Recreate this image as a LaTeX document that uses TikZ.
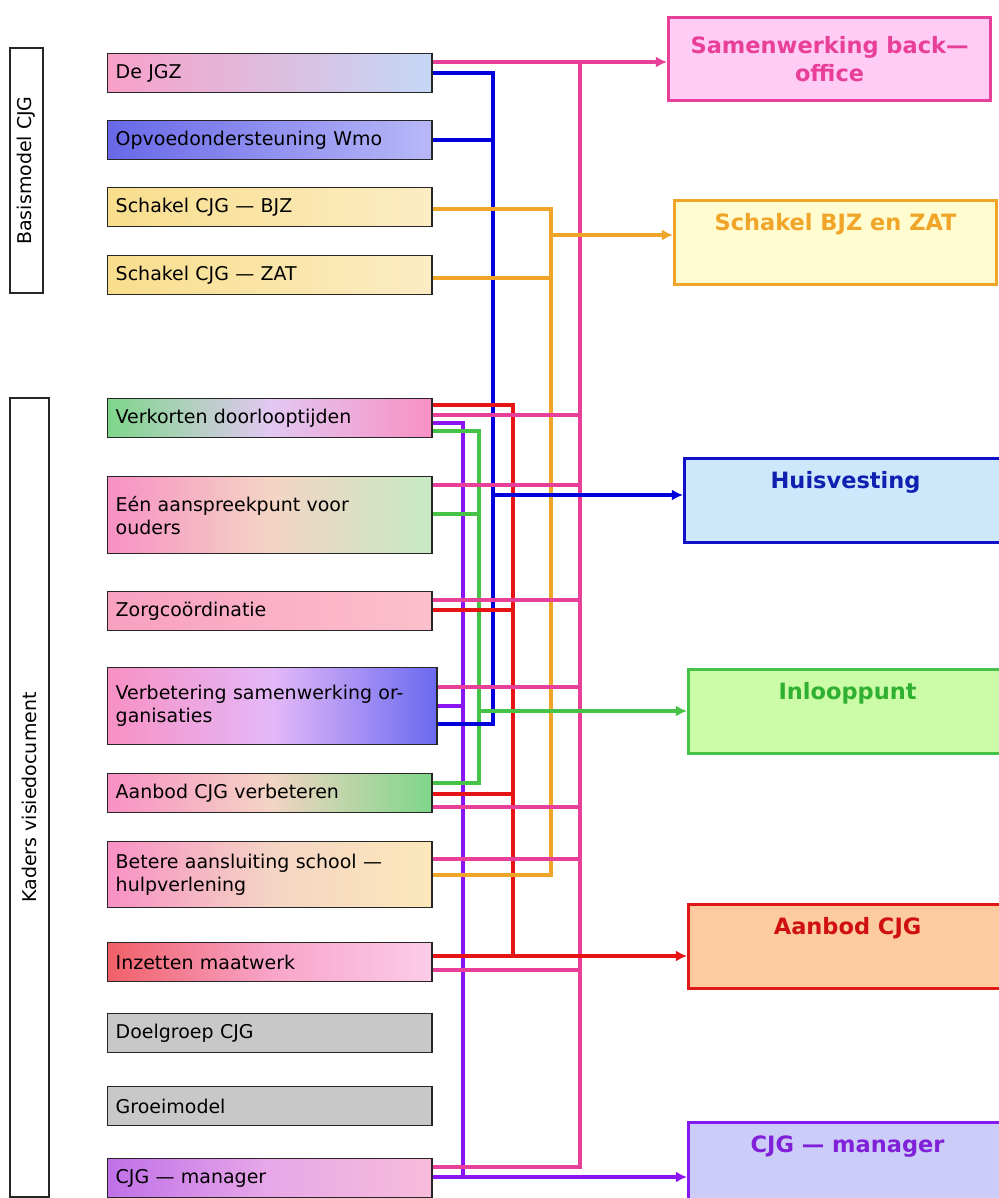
\documentclass[tikz,border=0pt]{standalone}
\usepackage{fontspec}
\setmainfont{DejaVu Sans}
\usetikzlibrary{arrows.meta}
\usetikzlibrary{calc}

\definecolor{lnPink}{RGB}{232,64,152}
\definecolor{lnBlue}{RGB}{0,0,220}
\definecolor{lnOrange}{RGB}{240,164,40}
\definecolor{lnRed}{RGB}{230,20,20}
\definecolor{lnPurple}{RGB}{140,20,240}
\definecolor{lnGreen}{RGB}{70,195,70}

\definecolor{jgzL}{RGB}{248,160,200}
\definecolor{jgzR}{RGB}{196,216,246}
\definecolor{opvL}{RGB}{104,104,232}
\definecolor{opvR}{RGB}{184,184,248}
\definecolor{bjzL}{RGB}{248,222,140}
\definecolor{bjzR}{RGB}{252,236,196}
\definecolor{gPink}{RGB}{248,144,196}
\definecolor{gGreen}{RGB}{126,214,138}
\definecolor{gLav}{RGB}{226,200,242}
\definecolor{gBeige}{RGB}{244,212,196}
\definecolor{gLtGreen}{RGB}{198,234,196}
\definecolor{zorgL}{RGB}{248,160,192}
\definecolor{zorgR}{RGB}{252,192,204}
\definecolor{verbM}{RGB}{228,184,248}
\definecolor{verbR}{RGB}{106,106,240}
\definecolor{betR}{RGB}{252,232,186}
\definecolor{inzL}{RGB}{240,96,104}
\definecolor{inzM}{RGB}{248,164,200}
\definecolor{inzR}{RGB}{252,204,232}
\definecolor{gGray}{RGB}{200,200,200}
\definecolor{mgrL}{RGB}{192,112,232}
\definecolor{mgrM}{RGB}{232,168,232}
\definecolor{mgrR}{RGB}{248,188,218}

\definecolor{samF}{RGB}{255,204,246}
\definecolor{zatF}{RGB}{255,252,208}
\definecolor{hvF}{RGB}{204,232,250}
\definecolor{hvB}{RGB}{16,16,200}
\definecolor{hvT}{RGB}{16,32,176}
\definecolor{inlF}{RGB}{204,252,168}
\definecolor{inlT}{RGB}{48,176,48}
\definecolor{aanF}{RGB}{252,204,160}
\definecolor{aanB}{RGB}{224,24,24}
\definecolor{aanT}{RGB}{208,16,16}
\definecolor{mgF}{RGB}{204,204,248}
\definecolor{mgB}{RGB}{136,24,240}
\definecolor{mgT}{RGB}{128,32,216}

\newcommand{\drawTap}[4]{
	\draw[#1] let
		\p1 = (#2.east), \p2 = (#4), \p3 = (0,#3)
		in
		(\x1,\y3) -- (\x2,\y3);
}

\begin{document}
\begin{tikzpicture}[x=0.025cm, y=-0.025cm,
		leftbox/.style={draw=black!85, line width=1pt, anchor=north west, align=left,
			minimum width=8.1cm, text width=7.7cm, inner xsep=5.7pt, minimum height=0.975cm,
			font=\fontsize{13.5}{16.4}\selectfont},
		sidebox/.style={draw=black!85, line width=1pt, rotate=90, font=\fontsize{13.5}{16}\selectfont},
		goalbox/.style={line width=2.2pt, anchor=north west, align=center, minimum width=8.05cm,
			minimum height=2.075cm, font=\fontsize{16}{20}\selectfont\bfseries},
		toptext/.style={text height=18.5pt, text depth=35pt, inner ysep=3pt},
		link/.style={line width=2.5pt},
		trunk/.style={line width=2.5pt, line cap=rect},
		linkarrow/.style={line width=2.5pt, -{Latex[length=8pt,width=8pt]}}]

		\useasboundingbox (0,0) rectangle (999,1198);
		\clip (0,0) rectangle (999,1198);

		% group labels
		\node[sidebox, minimum width=6.125cm, minimum height=0.825cm] (basis) at (26.5,170.5) {Basismodel CJG};
		\node[sidebox, minimum width=19.975cm, minimum height=0.975cm] (kaders) at (29.5,797.5) {Kaders visiedocument};

		% left boxes
		\node[leftbox, left color=jgzL, right color=jgzR] (jgz) at (107,53) {De JGZ};
		\node[leftbox, left color=opvL, right color=opvR] (opv) at (107,120) {Opvoedondersteuning Wmo};
		\node[leftbox, left color=bjzL, right color=bjzR] (bjz) at (107,187) {Schakel CJG — BJZ};
		\node[leftbox, left color=bjzL, right color=bjzR] (zat) at (107,255) {Schakel CJG — ZAT};
		\node[leftbox, left color=gGreen, right color=gPink, middle color=gLav] (verk) at (107,398) {Verkorten doorlooptijden};
		\node[leftbox, minimum height=1.925cm, left color=gPink, right color=gLtGreen, middle color=gBeige] (een) at (107,476) {Eén aanspreekpunt voor\\ouders};
		\node[leftbox, left color=zorgL, right color=zorgR] (zorg) at (107,591) {Zorgcoördinatie};
		\node[leftbox, minimum width=8.225cm, text width=7.83cm, minimum height=1.925cm, left color=gPink, right color=verbR, middle color=verbM] (verb) at (107,667) {Verbetering samenwerking or-\\ganisaties};
		\node[leftbox, left color=gPink, right color=gGreen, middle color=gBeige] (aanv) at (107,773) {Aanbod CJG verbeteren};
		\node[leftbox, minimum height=1.65cm, left color=gPink, right color=betR, middle color=gBeige] (bet) at (107,841) {Betere aansluiting school —\\hulpverlening};
		\node[leftbox, left color=inzL, right color=inzR, middle color=inzM] (inz) at (107,942) {Inzetten maatwerk};
		\node[leftbox, fill=gGray] (doel) at (107,1013) {Doelgroep CJG};
		\node[leftbox, fill=gGray] (groei) at (107,1086) {Groeimodel};
		\node[leftbox, left color=mgrL, right color=mgrR, middle color=mgrM] (mgr) at (107,1158) {CJG — manager};

		% right boxes
		\node[goalbox, draw=lnPink, fill=samF, text=lnPink] (sam) at (667,16) {Samenwerking back—\\office};
		\node[goalbox, toptext, draw=lnOrange, fill=zatF, text=lnOrange] (bjzzat) at (673,199) {Schakel BJZ en ZAT};
		\node[goalbox, toptext, draw=hvB, fill=hvF, text=hvT] (hv) at (683,457) {Huisvesting};
		\node[goalbox, toptext, minimum width=7.95cm, draw=lnGreen, fill=inlF, text=inlT] (inl) at (687,668) {Inlooppunt};
		\node[goalbox, toptext, minimum width=7.95cm, draw=aanB, fill=aanF, text=aanT] (aanb) at (687,903) {Aanbod CJG};
		\node[goalbox, toptext, minimum width=7.95cm, draw=mgB, fill=mgF, text=mgT] (cjgm) at (687,1121) {CJG — manager};

		% trunks
		\coordinate (pkT) at (580,62);
		\coordinate (pkB) at (580,1167);
		\coordinate (blT) at (493,73);
		\coordinate (blB) at (493,724);
		\coordinate (orT) at (551,209);
		\coordinate (orB) at (551,875);
		\coordinate (rdT) at (513,405);
		\coordinate (rdB) at (513,956);
		\coordinate (puT) at (463,423);
		\coordinate (puB) at (463,1177);
		\coordinate (grT) at (479,431);
		\coordinate (grB) at (479,783);
		\coordinate (blA) at (493,495);
		\coordinate (orA) at (551,235);
		\coordinate (grA) at (479,711);

		\draw[trunk, lnPurple] (puT) -- (puB);
		\draw[trunk, lnGreen] (grT) -- (grB);
		\draw[trunk, lnBlue] (blT) -- (blB);
		\draw[trunk, lnRed] (rdT) -- (rdB);
		\draw[trunk, lnOrange] (orT) -- (orB);
		\draw[trunk, lnPink] (pkT) -- (pkB);

		\drawTap{link, lnPink}{jgz}{62}{pkT}
		\drawTap{link, lnPink}{verk}{415}{pkT}
		\drawTap{link, lnPink}{een}{485}{pkT}
		\drawTap{link, lnPink}{zorg}{600}{pkT}
		\drawTap{link, lnPink}{verb}{687}{pkT}
		\drawTap{link, lnPink}{aanv}{807}{pkT}
		\drawTap{link, lnPink}{bet}{859}{pkT}
		\drawTap{link, lnPink}{inz}{970}{pkT}
		\drawTap{link, lnPink}{mgr}{1167}{pkT}

		\drawTap{link, lnBlue}{jgz}{73}{blT}
		\drawTap{link, lnBlue}{opv}{140}{blT}
		\drawTap{link, lnBlue}{verb}{724}{blT}

		\drawTap{link, lnOrange}{bjz}{209}{orT}
		\drawTap{link, lnOrange}{zat}{278}{orT}
		\drawTap{link, lnOrange}{bet}{875}{orT}

		\drawTap{link, lnRed}{verk}{405}{rdT}
		\drawTap{link, lnRed}{zorg}{610}{rdT}
		\drawTap{link, lnRed}{aanv}{794}{rdT}
		\drawTap{link, lnRed}{inz}{956}{rdT}

		\drawTap{link, lnPurple}{verk}{423}{puT}
		\drawTap{link, lnPurple}{verb}{706}{puT}
		\drawTap{link, lnPurple}{mgr}{1177}{puT}

		\drawTap{link, lnGreen}{verk}{431}{grT}
		\drawTap{link, lnGreen}{een}{514}{grT}
		\drawTap{link, lnGreen}{aanv}{783}{grT}

		% arrows to the right boxes
		\draw[linkarrow, lnPink] (pkT) -- (sam.west |- pkT);
		\draw[linkarrow, lnOrange] (orA) -- (bjzzat.west |- orA);
		\draw[linkarrow, lnBlue] (blA) -- (hv.west |- blA);
		\draw[linkarrow, lnGreen] (grA) -- (inl.west |- grA);
		\draw[linkarrow, lnRed] (rdB) -- (aanb.west |- rdB);
		\draw[linkarrow, lnPurple] (puB) -- (cjgm.west |- puB);

	\end{tikzpicture}
\end{document}
